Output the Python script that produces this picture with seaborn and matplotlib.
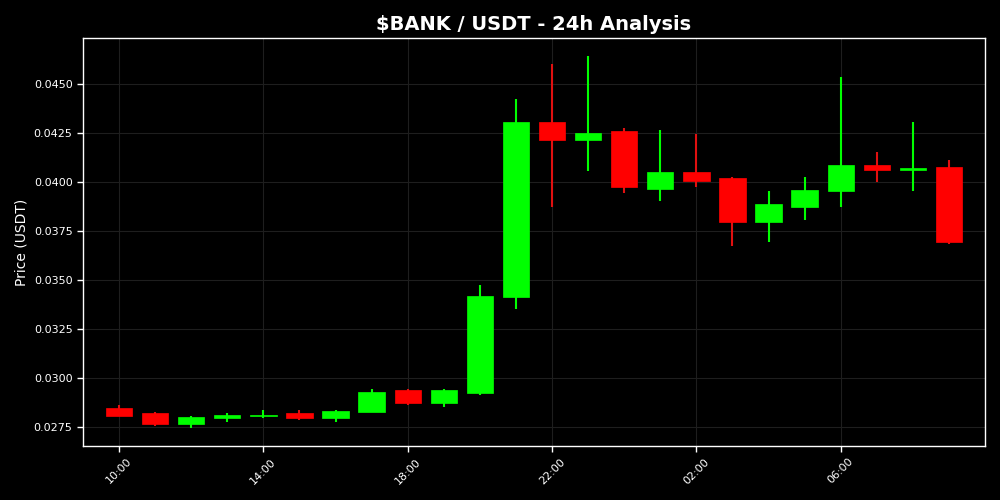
import matplotlib
matplotlib.use("Agg")
import matplotlib.pyplot as plt
import seaborn as sns
import numpy as np
import pandas as pd
from matplotlib.ticker import FormatStrFormatter, MultipleLocator

hours = ["10:00", "11:00", "12:00", "13:00", "14:00", "15:00", "16:00", "17:00",
         "18:00", "19:00", "20:00", "21:00", "22:00", "23:00", "00:00", "01:00",
         "02:00", "03:00", "04:00", "05:00", "06:00", "07:00", "08:00", "09:00"]
opens  = [0.02847, 0.02821, 0.02767, 0.02797, 0.02805, 0.02821, 0.02797, 0.02828,
          0.02939, 0.02874, 0.02925, 0.03413, 0.04308, 0.04216, 0.04262, 0.03964,
          0.04051, 0.04020, 0.03796, 0.03874, 0.03954, 0.04087, 0.04063, 0.04077]
closes = [0.02808, 0.02767, 0.02801, 0.02813, 0.02810, 0.02797, 0.02833, 0.02930,
          0.02874, 0.02939, 0.03418, 0.04308, 0.04216, 0.04250, 0.03976, 0.04051,
          0.04007, 0.03796, 0.03888, 0.03959, 0.04087, 0.04061, 0.04073, 0.03694]
highs  = [0.02862, 0.02827, 0.02806, 0.02820, 0.02838, 0.02837, 0.02838, 0.02944,
          0.02944, 0.02944, 0.03474, 0.04423, 0.04602, 0.04643, 0.04274, 0.04265,
          0.04243, 0.04026, 0.03954, 0.04026, 0.04536, 0.04153, 0.04306, 0.04112]
lows   = [0.02808, 0.02757, 0.02746, 0.02777, 0.02797, 0.02787, 0.02777, 0.02828,
          0.02864, 0.02854, 0.02915, 0.03354, 0.03874, 0.04058, 0.03945, 0.03905,
          0.03976, 0.03675, 0.03694, 0.03806, 0.03874, 0.04000, 0.03954, 0.03685]

df = pd.DataFrame({"hour": hours, "open": opens, "close": closes,
                   "high": highs, "low": lows})
df["x"] = np.arange(len(df))
df["up"] = df["close"] >= df["open"]

sns.set_style("dark", {"axes.facecolor": "black", "figure.facecolor": "black"})
plt.rcParams['font.family'] = ['DejaVu Sans']

fig, ax = plt.subplots(figsize=(10, 5), dpi=100)
fig.patch.set_facecolor("black")
ax.set_facecolor("black")
fig.subplots_adjust(left=0.083, right=0.985, top=0.924, bottom=0.108)

GREEN = "#00ff00"
RED = "#ff0000"
colors = [GREEN if u else RED for u in df["up"]]
wick_colors = [GREEN if u else "#e01010" for u in df["up"]]

ax.vlines(df["x"], df["low"], df["high"], colors=wick_colors, linewidth=1.5, zorder=2)
bottoms = np.minimum(df["open"], df["close"])
heights = np.abs(df["close"] - df["open"])
heights = np.maximum(heights, 0.00004)
ax.bar(df["x"], heights, bottom=bottoms, width=0.73, color=colors,
       edgecolor=colors, linewidth=0.5, zorder=3)

ax.set_xlim(-1.0, 24.0)
ax.set_ylim(0.02653, 0.04735)
ax.yaxis.set_major_locator(MultipleLocator(0.0025))
ax.yaxis.set_major_formatter(FormatStrFormatter("%.4f"))
tick_pos = df["x"][::4]
ax.set_xticks(tick_pos)
ax.set_xticklabels(df["hour"][::4], rotation=45)

ax.grid(True, color="#1e1e1e", linewidth=0.8)
ax.set_axisbelow(True)
for s in ax.spines.values():
    s.set_color("white")
    s.set_linewidth(1.0)
ax.tick_params(axis="both", colors="white", labelsize=8, length=4, width=1,
               bottom=True, left=True)
for lbl in ax.get_xticklabels() + ax.get_yticklabels():
    lbl.set_color("white")

ax.set_title("$BANK / USDT - 24h Analysis", color="white", fontsize=14,
             fontweight="bold", pad=6)
ax.set_ylabel("Price (USDT)", color="white", fontsize=10)

fig.savefig("out.png", dpi=100, facecolor="black")
